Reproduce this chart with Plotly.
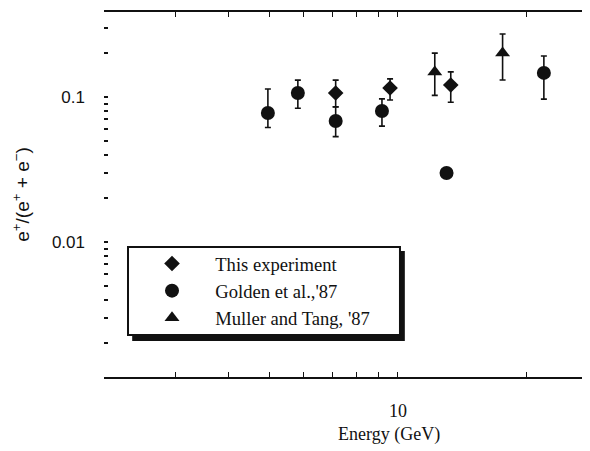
import plotly.graph_objects as go

# ---- data ----
exp_energy = [7.14, 9.58, 13.3]
exp_ratio = [0.1066, 0.1154, 0.121]
exp_err_plus = [0.024, 0.018, 0.028]
exp_err_minus = [0.021, 0.020, 0.029]

golden_energy = [4.95, 5.82, 7.14, 9.17, 13.0, 22.0]
golden_ratio = [0.0776, 0.1066, 0.0683, 0.080, 0.0299, 0.1466]
golden_err_plus = [0.036, 0.024, 0.017, 0.017, 0.0, 0.045]
golden_err_minus = [0.016, 0.023, 0.015, 0.017, 0.0, 0.050]

muller_energy = [12.2, 17.6]
muller_ratio = [0.1486, 0.201]
muller_err_plus = [0.052, 0.071]
muller_err_minus = [0.046, 0.070]

series_names = ["This experiment", "Golden et al.,'87", "Muller and Tang, '87"]

x_tickvals = [3, 4, 5, 6, 7, 8, 9, 10, 20]
x_ticktext = ["", "", "", "", "", "", "", "10", ""]
y_tickvals = [0.002, 0.003, 0.004, 0.005, 0.006, 0.007, 0.008, 0.009, 0.01,
              0.02, 0.03, 0.04, 0.05, 0.06, 0.07, 0.08, 0.09, 0.1, 0.2, 0.3]
y_ticktext = ["", "", "", "", "", "", "", "", "0.01",
              "", "", "", "", "", "", "", "", "0.1", "", ""]

x_title = "Energy (GeV)"
y_title = "e<sup>+</sup>/(e<sup>+</sup> + e<sup>−</sup>)"

BLACK = "#111111"
SERIF = "Liberation Serif, Times New Roman, serif"
SANS = "Liberation Sans, Arial, sans-serif"
PAD = "\u00a0" * 5


def err(plus, minus):
    return dict(type="data", symmetric=False, array=plus, arrayminus=minus,
                color=BLACK, thickness=1.6, width=3)


fig = go.Figure()
fig.add_trace(go.Scatter(
    x=exp_energy, y=exp_ratio, mode="markers", name=PAD + series_names[0],
    marker=dict(symbol="diamond", size=12, color=BLACK),
    error_y=err(exp_err_plus, exp_err_minus)))
fig.add_trace(go.Scatter(
    x=golden_energy, y=golden_ratio, mode="markers", name=PAD + series_names[1],
    marker=dict(symbol="circle", size=14, color=BLACK),
    error_y=err(golden_err_plus, golden_err_minus)))
fig.add_trace(go.Scatter(
    x=muller_energy, y=muller_ratio, mode="markers", name=PAD + series_names[2],
    marker=dict(symbol="triangle-up", size=13, color=BLACK),
    error_y=err(muller_err_plus, muller_err_minus)))

# legend box with drop shadow
fig.add_shape(type="rect", xref="paper", yref="paper",
              x0=0.058, x1=0.619, y0=0.0986, y1=0.345,
              fillcolor=BLACK, line=dict(width=0), layer="above")
fig.add_shape(type="rect", xref="paper", yref="paper",
              x0=0.0494, x1=0.609, y0=0.115, y1=0.356,
              fillcolor="white", line=dict(color=BLACK, width=2), layer="above")

fig.add_annotation(text=y_title, xref="paper", yref="paper", x=-0.201, y=0.5,
                   textangle=-90, showarrow=False,
                   font=dict(family=SANS, size=19, color=BLACK))
fig.add_annotation(text=x_title, xref="paper", yref="paper", x=0.586, y=-0.192,
                   showarrow=False, font=dict(family=SERIF, size=18, color=BLACK))

fig.update_layout(
    width=582, height=443,
    margin=dict(l=96, r=0, t=4, b=74),
    paper_bgcolor="white", plot_bgcolor="white",
    showlegend=True,
    legend=dict(x=0.0988, y=0.362, xanchor="left", yanchor="top",
                bgcolor="rgba(0,0,0,0)", borderwidth=0,
                font=dict(family=SERIF, size=18.6, color=BLACK),
                itemwidth=30, tracegroupgap=0),
    xaxis=dict(type="log", range=[0.3099, 1.4507],
               tickvals=x_tickvals, ticktext=x_ticktext,
               ticks="inside", ticklen=5, tickwidth=1, tickcolor=BLACK,
               showline=True, linecolor=BLACK, linewidth=2, mirror="ticks",
               showgrid=False, zeroline=False,
               tickfont=dict(family=SERIF, size=18, color=BLACK),
               ticklabelstandoff=16),
    yaxis=dict(type="log", range=[-2.931, -0.414],
               tickvals=y_tickvals, ticktext=y_ticktext,
               ticks="inside", ticklen=4, tickwidth=1.5, tickcolor=BLACK,
               showline=False, showgrid=False, zeroline=False,
               tickfont=dict(family=SANS, size=17, color=BLACK),
               ticklabelstandoff=18),
)

fig.write_html("out.html")
